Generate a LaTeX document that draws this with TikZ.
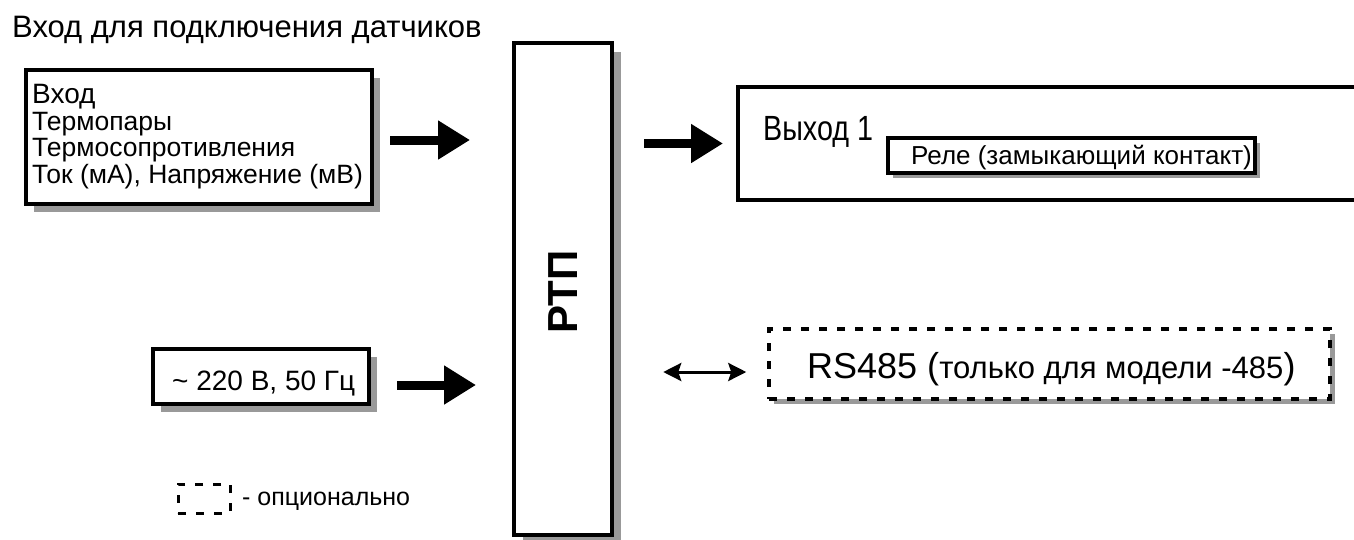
\documentclass[tikz,border=0pt]{standalone}
\usepackage{fontspec}
\setmainfont{Liberation Sans}
\newfontfamily\narrowfont[FakeStretch=0.82]{Liberation Sans}
\usetikzlibrary{arrows.meta, shadows}
\definecolor{shadowgray}{HTML}{999999}
\newcommand{\fsz}[1]{\fontsize{#1}{#1}\selectfont}
\tikzset{
  boxframe/.style={draw, line width=4pt, fill=white, inner sep=0pt},
  shadowed/.style={drop shadow={shadow xshift=#1, shadow yshift=-#1, fill=shadowgray, opacity=1}},
  optframe/.style={draw, line width=3.5pt, dash pattern=on 8pt off 10pt, fill=white, inner sep=0pt},
  fatarrow/.style={line width=9pt, -{Triangle[length=32pt, width=37pt]}},
  thinarrow/.style={line width=3pt, {Stealth[length=18pt, width=18pt, inset=3pt]}-{Stealth[length=18pt, width=18pt, inset=3pt]}},
  txt/.style={anchor=base west, inner sep=0pt},
}
\begin{document}
\begin{tikzpicture}[x=1pt, y=-1pt]
  \clip (0,0) rectangle (1354,539);
  \fill[white] (0,0) rectangle (1354,539);

  \node[txt] (title) at (12,37) {\fsz{31}Вход для подключения датчиков};

  % inputs
  \node[boxframe, shadowed=8pt, minimum width=346pt, minimum height=134pt] (inbox) at (199,137) {};
  \node[txt] (inhead) at (32,103) {\fsz{28}Вход};
  \node[txt] (inline1) at (32,130) {\fsz{26.5}Термопары};
  \node[txt] (inline2) at (32,156) {\fsz{26.5}Термосопротивления};
  \node[txt] (inline3) at (32,183) {\fsz{26.5}Ток (мА), Напряжение (мВ)};

  \node[boxframe, shadowed=8pt, minimum width=216pt, minimum height=55pt] (pwrbox) at (261,376.5) {};
  \node[txt] (pwrtext) at (172,390) {\fsz{28}\textasciitilde{} 220 В, 50 Гц};

  % device
  \node[boxframe, shadowed=9pt, minimum width=98pt, minimum height=492pt] (rtp) at (563,289) {};
  \node[rotate=90, inner sep=0pt] (rtplabel) at (563,292) {\fsz{42}\bfseries РТП};

  % outputs
  \node[boxframe, minimum width=632pt, minimum height=113pt] (outbox) at (1054,143.5) {};
  \node[txt] (outhead) at (763,140) {\fsz{35}\narrowfont Выход 1};
  \node[boxframe, shadowed=5pt, minimum width=367pt, minimum height=35pt] (relay) at (1071.5,155.5) {};
  \node[txt] (relaytext) at (911,164) {\fsz{26}Реле (замыкающий контакт)};

  \node[optframe, shadowed=5pt, minimum width=561pt, minimum height=70pt] (rsbox) at (1049.5,364) {};
  \node[txt] (rstext) at (807,378) {\fsz{36}RS485 (\fsz{31}только для модели -485\fsz{36})};

  % legend
  \node[optframe, line width=3pt, minimum width=52pt, minimum height=29pt] (legbox) at (204,498.5) {};
  \node[txt] (legtext) at (242,505) {\fsz{25}- опционально};

  % arrows
  \draw[fatarrow] ([xshift=16pt, yshift=-3pt]inbox.east) -- ([xshift=-42pt, yshift=-3pt]rtp.west |- inbox.east);
  \draw[fatarrow] ([xshift=26pt, yshift=-8.5pt]pwrbox.east) -- ([xshift=-36pt, yshift=-8.5pt]rtp.west |- pwrbox.east);
  \draw[fatarrow] ([xshift=30pt]rtp.east |- outbox.west) -- ([xshift=-13pt]outbox.west);
  \draw[thinarrow] ([xshift=-104pt, yshift=-8pt]rsbox.west) -- ([xshift=-21pt, yshift=-8pt]rsbox.west);
\end{tikzpicture}
\end{document}
